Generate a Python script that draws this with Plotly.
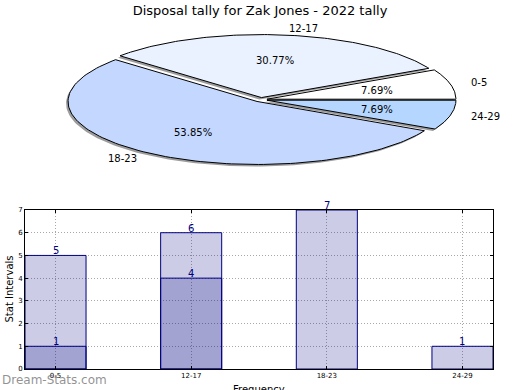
import numpy as np
import plotly.graph_objects as go

# ---------------- data ----------------
title_text = "Disposal tally for Zak Jones - 2022 tally"
categories = ["0-5", "12-17", "18-23", "24-29"]
pie_values = [1, 4, 7, 1]
series_a = [1, 4, 7, 1]
series_b = [5, 6, None, None]
y_ticks = [0, 1, 2, 3, 4, 5, 6, 7]

# ---------------- style / geometry ----------------
W, H = 520, 390
pie_cx, pie_cy = 260.7, 99.7
pie_rx, pie_ry = 189.0, 63.0
explode = 0.034
pie_colors = ["#ffffff", "#eaf2ff", "#c4d8ff", "#b4d6ff"]
shadow_dx, shadow_dy = -2.0, 2.0
bar_fill = "rgba(0,0,128,0.2)"
bar_line = "#000080"
font = "DejaVu Sans"

fig = go.Figure()

# ---------------- pie (elliptical, drawn from values) ----------------
total = float(sum(pie_values))
fracs = [v / total for v in pie_values]
starts = np.cumsum([0.0] + fracs[:-1]) * 360.0
ends = np.cumsum(fracs) * 360.0

def wedge(i, dx=0.0, dy=0.0):
    a0, a1 = np.radians(starts[i]), np.radians(ends[i])
    mid = 0.5 * (a0 + a1)
    ox = pie_cx + explode * pie_rx * np.cos(mid) + dx
    oy = pie_cy - explode * pie_ry * np.sin(mid) + dy
    t = np.linspace(a0, a1, 120)
    xs = np.concatenate([[ox], ox + pie_rx * np.cos(t), [ox]])
    ys = np.concatenate([[oy], oy - pie_ry * np.sin(t), [oy]])
    return xs, ys, ox, oy, mid

for i in range(len(pie_values)):
    xs, ys, *_ = wedge(i, shadow_dx, shadow_dy)
    fig.add_trace(go.Scatter(x=xs, y=ys, xaxis="x2", yaxis="y2", mode="lines",
                             fill="toself", fillcolor="rgba(90,90,90,0.6)",
                             line=dict(width=0), hoverinfo="skip"))
for i in range(len(pie_values)):
    xs, ys, *_ = wedge(i)
    fig.add_trace(go.Scatter(x=xs, y=ys, xaxis="x2", yaxis="y2", mode="lines",
                             fill="toself", fillcolor=pie_colors[i],
                             line=dict(color="black", width=1), hoverinfo="skip"))

annotations = []
for i, cat in enumerate(categories):
    _, _, ox, oy, mid = wedge(i)
    c, s = np.cos(mid), np.sin(mid)
    annotations.append(dict(x=ox + 1.1 * pie_rx * c, y=oy - 1.1 * pie_ry * s,
                            xref="x2", yref="y2", text=cat, showarrow=False,
                            xanchor="left" if c > 0 else "right", yanchor="middle",
                            font=dict(family=font, size=10, color="black")))
    annotations.append(dict(x=ox + 0.6 * pie_rx * c, y=oy - 0.6 * pie_ry * s,
                            xref="x2", yref="y2", text=f"{100 * fracs[i]:.2f}%",
                            showarrow=False, xanchor="center", yanchor="middle",
                            font=dict(family=font, size=10, color="black")))

# ---------------- bars ----------------
xpos = list(range(len(categories)))
bw = 0.45
for ser in (series_a, series_b):
    fig.add_trace(go.Bar(x=xpos, y=ser, width=bw, xaxis="x", yaxis="y",
                         marker=dict(color=bar_fill, line=dict(color=bar_line, width=1)),
                         hoverinfo="skip"))
    for xi, v in zip(xpos, ser):
        if v:
            annotations.append(dict(x=xi, y=v, xref="x", yref="y", text=str(v),
                                    showarrow=False, yanchor="bottom", yshift=-3,
                                    font=dict(family=font, size=10, color="#000080")))

annotations.append(dict(x=0, y=(H - 380) / H, xref="paper", yref="paper",
                        text="Dream-Stats.com", showarrow=False, xanchor="left",
                        yanchor="middle",
                        font=dict(family=font, size=12, color="rgba(110,110,110,0.75)")))
annotations.append(dict(x=(25 + 493) / 2 / W, y=(H - 389.5) / H, xref="paper", yref="paper",
                        text="Frequency", showarrow=False, xanchor="center",
                        yanchor="middle", font=dict(family=font, size=10, color="black")))
annotations.append(dict(x=9 / W, y=(H - 289.5) / H, xref="paper", yref="paper",
                        text="Stat Intervals", showarrow=False, textangle=-90,
                        xanchor="center", yanchor="middle",
                        font=dict(family=font, size=10, color="black")))

grid_dash = "1px,2px"
fig.update_layout(
    width=W, height=H,
    margin=dict(l=0, r=0, t=0, b=0, autoexpand=False),
    paper_bgcolor="white", plot_bgcolor="rgba(0,0,0,0)",
    showlegend=False, barmode="overlay",
    title=dict(text=title_text, x=0.5, xanchor="center", y=1 - 10 / H, yanchor="middle",
               font=dict(family=font, size=13, color="black")),
    font=dict(family=font),
    xaxis=dict(domain=[25 / W, 493 / W], range=[-bw / 2, 3 + bw / 2], automargin=False,
               tickvals=xpos, ticktext=categories, tickfont=dict(size=7, color="black"),
               showline=True, linecolor="black", linewidth=1, mirror="ticks",
               ticks="inside", ticklen=3, tickcolor="black",
               showgrid=True, gridcolor="#a8a8a8", griddash=grid_dash, gridwidth=1,
               zeroline=False, anchor="y", fixedrange=True),
    yaxis=dict(domain=[(H - 369) / H, (H - 210) / H], range=[0, 7], automargin=False,
               tickvals=y_ticks, tickfont=dict(size=7, color="black"),
               showline=True, linecolor="black", linewidth=1, mirror="ticks",
               ticks="inside", ticklen=3, tickcolor="black",
               showgrid=True, gridcolor="#a8a8a8", griddash=grid_dash, gridwidth=1,
               zeroline=False, anchor="x", fixedrange=True),
    xaxis2=dict(domain=[0, 1], range=[0, W], visible=False, anchor="y2", fixedrange=True,
                automargin=False),
    yaxis2=dict(domain=[0, 1], range=[H, 0], visible=False, anchor="x2", fixedrange=True,
                automargin=False),
    annotations=annotations,
)

fig.write_html("out.html", config={"displayModeBar": False},
               post_script="document.body.style.margin='0';document.body.style.padding='0';")
